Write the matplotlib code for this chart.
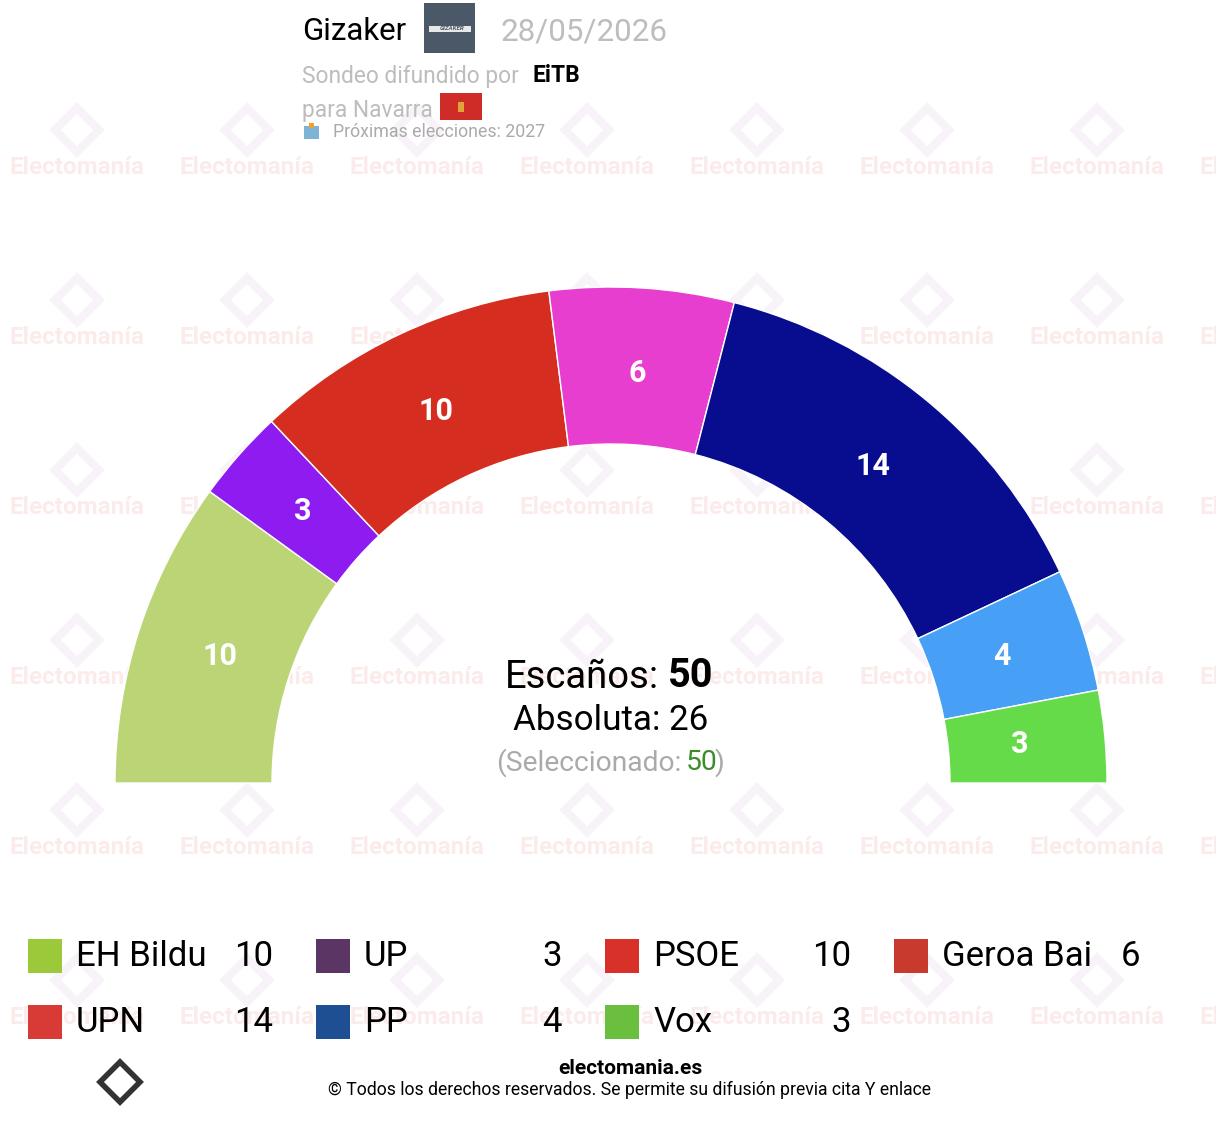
import matplotlib
matplotlib.use("Agg")
import matplotlib.pyplot as plt
from matplotlib.patches import Wedge, Rectangle, Polygon
import numpy as np

plt.rcParams['font.family'] = ['Roboto', 'DejaVu Sans']

# ---- data ----
parties = ["EH Bildu", "UP", "PSOE", "Geroa Bai", "UPN", "PP", "Vox"]
seats = [10, 3, 10, 6, 14, 4, 3]
arc_colors = ["#BBD576", "#8E1BF0", "#D52D1F", "#E83ECF", "#080C8F", "#47A0F5", "#66DB4A"]
icon_colors = ["#9CC93A", "#5B3564", "#D8312A", "#C8392E", "#D83A35", "#1F4F93", "#6BBF3E"]
total_seats = 50
majority = 26
selected = 50
pollster = "Gizaker"
date = "28/05/2026"
media = "EiTB"
region = "para Navarra"
next_elec = "Próximas elecciones: 2027"

W, H = 1216, 1124
fig = plt.figure(figsize=(W / 100, H / 100), dpi=100)
ax = fig.add_axes([0, 0, 1, 1])
ax.set_xlim(0, W)
ax.set_ylim(0, H)
ax.set_aspect('equal')
ax.axis('off')

def Y(y):
    return H - y

# ---- watermark ----
for gx in range(77, W + 100, 170):
    for gy in range(167, H, 170):
        ax.text(gx, Y(gy), "Electomanía", ha='center', va='center', fontsize=17.5,
                fontweight='bold', color='#FCEBEB', zorder=0)
        cx, cy = gx, Y(gy - 37)
        d = 22
        ax.add_patch(Polygon([[cx - d, cy], [cx, cy + d], [cx + d, cy], [cx, cy - d]],
                             closed=True, fill=False, edgecolor='#F8F3F8', lw=6, zorder=0))

# ---- hemicycle ----
cx, cy = 611, Y(783)
r_out, r_in = 496, 339
start = 180.0
for p, s, c in zip(parties, seats, arc_colors):
    span = 180.0 * s / total_seats
    end = start - span
    ax.add_patch(Wedge((cx, cy), r_out, end, start, width=r_out - r_in,
                       facecolor=c, edgecolor='white', lw=1.0, zorder=2))
    mid = np.deg2rad((start + end) / 2)
    rm = 411
    ax.text(cx + rm * np.cos(mid), cy + rm * np.sin(mid), str(s), ha='center', va='center',
            color='white', fontsize=22, fontweight='bold', zorder=3)
    start = end

# ---- center text ----
ax.text(659, Y(677), "Escaños:", ha='right', va='center', fontsize=27.5, color='black', zorder=4)
ax.text(668, Y(676), str(total_seats), ha='left', va='center', fontsize=28.5,
        fontweight='bold', color='black', zorder=4)
ax.text(611, Y(720), f"Absoluta: {majority}", ha='center', va='center', fontsize=25.2,
        color='black', zorder=4)
ax.text(681, Y(763), "(Seleccionado:", ha='right', va='center', fontsize=20.3,
        color='#AAAAAA', zorder=4)
ax.text(686, Y(763), str(selected), ha='left', va='center', fontsize=20.3,
        color='#3C8C2A', zorder=4)
ax.text(714, Y(763), ")", ha='left', va='center', fontsize=20.3, color='#AAAAAA', zorder=4)

# ---- header ----
ax.text(302, Y(32), pollster, ha='left', va='center', fontsize=22.5, color='black', zorder=4)
ax.add_patch(Rectangle((424, Y(53)), 51, 50, facecolor='#4A5868', edgecolor='none', zorder=4))
ax.add_patch(Rectangle((429, Y(32)), 42, 6, facecolor='#E8E8E8', edgecolor='none', zorder=5))
ax.text(452, Y(28.5), "GIZAKER", ha='center', va='center', fontsize=4.5, color='#4A5868',
        fontweight='bold', fontstyle='italic', zorder=6)
ax.text(500, Y(32), date, ha='left', va='center', fontsize=22.6, color='#BDBDBD', zorder=4)
ax.text(302, Y(76), "Sondeo difundido por", ha='left', va='center', fontsize=16.4,
        color='#BDBDBD', zorder=4)
ax.text(533, Y(76), media, ha='left', va='center', fontsize=16.4, fontweight='bold',
        color='black', zorder=4)
ax.text(302, Y(110), region, ha='left', va='center', fontsize=16.4, color='#BDBDBD', zorder=4)
ax.add_patch(Rectangle((440, Y(120)), 42, 27, facecolor='#D02C27', edgecolor='none', zorder=4))
ax.add_patch(Rectangle((458, Y(112)), 6, 10, facecolor='#E0A33A', edgecolor='none', zorder=5))
ax.add_patch(Rectangle((304, Y(139)), 15, 13, facecolor='#7FB3D5', edgecolor='none', zorder=4))
ax.add_patch(Rectangle((309, Y(128)), 5, 5, facecolor='#F0A030', edgecolor='none', zorder=5))
ax.text(333, Y(132), next_elec, ha='left', va='center', fontsize=12.8, color='#AAAAAA', zorder=4)

# ---- legend ----
col_x = [28, 316, 605, 894]
num_x = [273, 562, 851, 1140]
row_y = [956, 1022]
for i, (p, s, ic) in enumerate(zip(parties, seats, icon_colors)):
    r, c = divmod(i, 4)
    x0, yc = col_x[c], row_y[r]
    ax.add_patch(Rectangle((x0, Y(yc + 17)), 34, 34, facecolor=ic, edgecolor='none', zorder=4))
    ax.text(x0 + 48, Y(yc), p, ha='left', va='center', fontsize=25, color='black', zorder=4)
    ax.text(num_x[c], Y(yc), str(s), ha='right', va='center', fontsize=25, color='black', zorder=4)

# ---- footer ----
ax.text(630, Y(1068), "electomania.es", ha='center', va='center', fontsize=15,
        fontweight='bold', color='black', zorder=4)
ax.text(630, Y(1090), "© Todos los derechos reservados. Se permite su difusión previa cita Y enlace",
        ha='center', va='center', fontsize=12.7, color='black', zorder=4)
lx, ly, d = 120, Y(1082), 20
ax.add_patch(Polygon([[lx - d, ly], [lx, ly + d], [lx + d, ly], [lx, ly - d]], closed=True,
                     fill=False, edgecolor='#333333', lw=4, zorder=4))

fig.savefig("out.png", dpi=100, facecolor='white')
